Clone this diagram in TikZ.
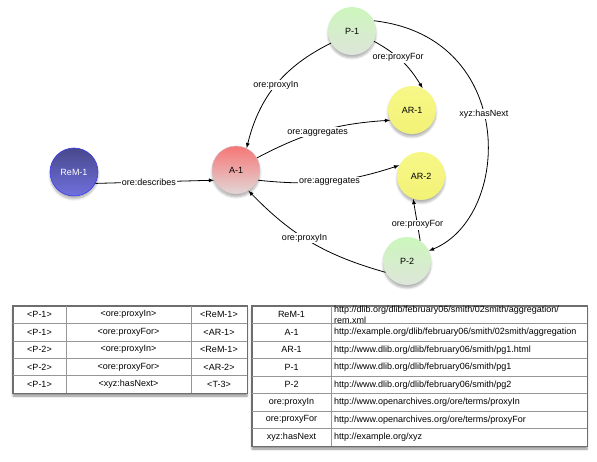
\documentclass[tikz,border=0pt]{standalone}
\usepackage{fontspec}
\setmainfont{Liberation Sans}
\usepackage{xcolor}
\usetikzlibrary{shadows,shadows.blur}

\definecolor{remtop}{RGB}{72,72,140}
\definecolor{rembot}{RGB}{112,112,222}
\definecolor{remline}{RGB}{60,60,240}
\definecolor{aggtop}{RGB}{246,118,118}
\definecolor{aggbot}{RGB}{226,214,214}
\definecolor{proxytop}{RGB}{204,246,188}
\definecolor{proxybot}{RGB}{222,230,218}
\definecolor{restop}{RGB}{247,247,136}
\definecolor{resbot}{RGB}{242,242,118}
\definecolor{gridline}{RGB}{150,150,150}
\definecolor{tableline}{RGB}{110,110,110}

\tikzset{
	ball/.style={circle, minimum size=48pt, inner sep=0pt, font=\fontsize{9}{11}\selectfont,
		blur shadow={shadow xshift=0pt, shadow yshift=-3pt, shadow opacity=30, shadow blur steps=6}},
	remball/.style={ball, draw=remline, line width=0.6pt, top color=remtop, bottom color=rembot, text=white},
	aggball/.style={ball, draw=aggbot!80!gray, line width=0.4pt, top color=aggtop, bottom color=aggbot},
	proxyball/.style={ball, top color=proxytop, bottom color=proxybot},
	resball/.style={ball, top color=restop, bottom color=resbot},
	lbl/.style={fill=white, inner sep=1pt, font=\fontsize{9}{11}\selectfont},
	rel/.style={-latex, line width=0.8pt},
	tablebox/.style={draw=tableline, fill=white, line width=0.8pt,
		blur shadow={shadow xshift=0pt, shadow yshift=-3pt, shadow opacity=45, shadow blur steps=6}},
	cell/.style={inner sep=0pt, font=\fontsize{9}{11}\selectfont},
}

\begin{document}
\begin{tikzpicture}[x=1pt, y=1pt]
	\useasboundingbox (0, 0) rectangle (597, 461);

	%Resource map and aggregation
	\node[remball] (rem) at (74, 289) {ReM-1};
	\node[aggball] (a1) at (236, 291) {A-1};

	%Proxies
	\node[proxyball] (p1) at (352, 430) {P-1};
	\node[proxyball] (p2) at (407, 200) {P-2};

	%Aggregated resources
	\node[resball] (ar1) at (412, 351) {AR-1};
	\node[resball] (ar2) at (421, 285) {AR-2};

	%Relations
	\draw[rel] (rem.-28) -- node[lbl, pos=0.45] {ore:describes} (a1.-155);
	\draw[rel] (p1.210) to[bend right=25] node[lbl] {ore:proxyIn} (a1.64);
	\draw[rel] (p1.-25) to[bend left=15] node[lbl, pos=0.42] {ore:proxyFor} (ar1.64);
	\draw[rel] (a1.30) to[bend left=12] node[lbl, pos=0.47] {ore:aggregates} (ar1.205);
	\draw[rel] (a1.-25) to[bend right=12] node[lbl] {ore:aggregates} (ar2.154);
	\draw[rel] (p2.57) -- node[lbl, pos=0.38] {ore:proxyFor} (ar2.-109);
	\draw[rel] (p2.208) to[bend left=15] node[lbl, pos=0.55] {ore:proxyIn} (a1.-59);
	\draw[rel] (p1.25) .. controls (518, 424) and (512, 244) .. node[lbl, pos=0.45] {xyz:hasNext} (p2.25);

	%Triples table
	\node[tablebox, minimum width=234pt, minimum height=87pt, inner sep=0pt] (triples) at (130, 111.5) {};
	\draw[gridline] (13, 137.6) -- (247, 137.6);
	\draw[gridline] (13, 120.2) -- (247, 120.2);
	\draw[gridline] (13, 102.8) -- (247, 102.8);
	\draw[gridline] (13, 85.4) -- (247, 85.4);
	\draw[gridline] (66, 155) -- (66, 68);
	\draw[gridline] (191, 155) -- (191, 68);
	\draw[tableline, line width=0.8pt] (triples.south west) rectangle (triples.north east);

	\node[cell] (t11) at (39.5, 146.3) {<P-1>};
	\node[cell] (t12) at (128.5, 146.3) {<ore:proxyIn>};
	\node[cell] (t13) at (219, 146.3) {<ReM-1>};
	\node[cell] (t21) at (39.5, 128.9) {<P-1>};
	\node[cell] (t22) at (128.5, 128.9) {<ore:proxyFor>};
	\node[cell] (t23) at (219, 128.9) {<AR-1>};
	\node[cell] (t31) at (39.5, 111.5) {<P-2>};
	\node[cell] (t32) at (128.5, 111.5) {<ore:proxyIn>};
	\node[cell] (t33) at (219, 111.5) {<ReM-1>};
	\node[cell] (t41) at (39.5, 94.1) {<P-2>};
	\node[cell] (t42) at (128.5, 94.1) {<ore:proxyFor>};
	\node[cell] (t43) at (219, 94.1) {<AR-2>};
	\node[cell] (t51) at (39.5, 76.7) {<P-1>};
	\node[cell] (t52) at (128.5, 76.7) {<xyz:hasNext>};
	\node[cell] (t53) at (219, 76.7) {<T-3>};

	%Names table
	\node[tablebox, minimum width=335pt, minimum height=140pt, inner sep=0pt] (names) at (419.5, 85) {};
	\draw[gridline] (252, 137.5) -- (587, 137.5);
	\draw[gridline] (252, 120) -- (587, 120);
	\draw[gridline] (252, 102.5) -- (587, 102.5);
	\draw[gridline] (252, 85) -- (587, 85);
	\draw[gridline] (252, 67.5) -- (587, 67.5);
	\draw[gridline] (252, 50) -- (587, 50);
	\draw[gridline] (252, 32.5) -- (587, 32.5);
	\draw[gridline] (331, 155) -- (331, 15);
	\draw[tableline, line width=0.8pt] (names.south west) rectangle (names.north east);

	\node[cell] (n11) at (291.5, 146.25) {ReM-1};
	\node[cell, anchor=west, align=left, font=\fontsize{9}{11.5}\selectfont] (n12) at (334, 146.25) {http://dlib.org/dlib/february06/smith/02smith/aggregation/\\rem.xml};
	\node[cell] (n21) at (291.5, 128.75) {A-1};
	\node[cell, anchor=west] (n22) at (334, 128.75) {http://example.org/dlib/february06/smith/02smith/aggregation};
	\node[cell] (n31) at (291.5, 111.25) {AR-1};
	\node[cell, anchor=west] (n32) at (334, 111.25) {http://www.dlib.org/dlib/february06/smith/pg1.html};
	\node[cell] (n41) at (291.5, 93.75) {P-1};
	\node[cell, anchor=west] (n42) at (334, 93.75) {http://www.dlib.org/dlib/february06/smith/pg1};
	\node[cell] (n51) at (291.5, 76.25) {P-2};
	\node[cell, anchor=west] (n52) at (334, 76.25) {http://www.dlib.org/dlib/february06/smith/pg2};
	\node[cell] (n61) at (291.5, 58.75) {ore:proxyIn};
	\node[cell, anchor=west] (n62) at (334, 58.75) {http://www.openarchives.org/ore/terms/proxyIn};
	\node[cell] (n71) at (291.5, 41.25) {ore:proxyFor};
	\node[cell, anchor=west] (n72) at (334, 41.25) {http://www.openarchives.org/ore/terms/proxyFor};
	\node[cell] (n81) at (291.5, 23.75) {xyz:hasNext};
	\node[cell, anchor=west] (n82) at (334, 23.75) {http://example.org/xyz};
\end{tikzpicture}
\end{document}
